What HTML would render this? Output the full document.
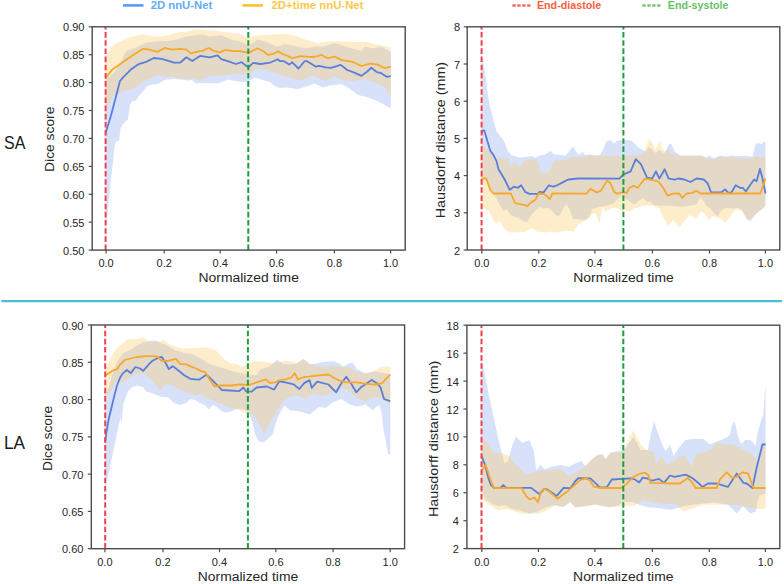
<!DOCTYPE html>
<html><head><meta charset="utf-8"><style>
html,body{margin:0;padding:0;background:#fff;}
body{width:784px;height:584px;overflow:hidden;}
svg{display:block;}
text{font-family:"Liberation Sans", sans-serif;}
.tk{font-size:11px;fill:#262626;}
.al{font-size:12px;fill:#262626;}
.lg{font-size:11px;font-weight:bold;}
.big{font-size:18px;fill:#1a1a1a;}
</style></head><body>
<svg width="784" height="584" viewBox="0 0 784 584">
<rect x="0" y="0" width="784" height="584" fill="#fff"/>

<line x1="123" y1="5.4" x2="143.5" y2="5.4" stroke="#5a9cf2" stroke-width="2.6"/>
<text x="150.7" y="9.2" class="lg" fill="#66aaf6" textLength="61.5" lengthAdjust="spacingAndGlyphs">2D nnU-Net</text>
<line x1="242.4" y1="5.4" x2="262.9" y2="5.4" stroke="#fbc02d" stroke-width="2.6"/>
<text x="271.5" y="9.2" class="lg" fill="#fcc84a" textLength="92" lengthAdjust="spacingAndGlyphs">2D+time nnU-Net</text>
<line x1="512.4" y1="5.5" x2="531" y2="5.5" stroke="#f76a5c" stroke-width="2.4" stroke-dasharray="3.4 1.5"/>
<text x="536.9" y="9.2" class="lg" fill="#f5603f" textLength="64.3" lengthAdjust="spacingAndGlyphs">End-diastole</text>
<line x1="642.4" y1="5.5" x2="661" y2="5.5" stroke="#78c878" stroke-width="2.4" stroke-dasharray="3.4 1.5"/>
<text x="667.8" y="9.2" class="lg" fill="#66c266" textLength="60.6" lengthAdjust="spacingAndGlyphs">End-systole</text>


<text x="0" y="0" transform="translate(4.0,149.2) scale(0.89,1)" class="big">SA</text>
<text x="0" y="0" transform="translate(3.9,449.0) scale(0.96,1)" class="big">LA</text>
<line x1="1.3" y1="301.1" x2="782" y2="301.1" stroke="#4cbdd6" stroke-width="2.2"/>

<polygon points="105.5,80.0 106.2,79.0 112.3,74.2 118.5,66.5 123.1,57.3 126.2,51.1 130.8,49.6 138.5,46.5 146.2,42.6 151.4,42.0 160.0,41.1 168.5,41.1 177.0,39.4 185.6,36.8 195.0,35.2 202.3,34.5 209.6,36.6 221.2,35.2 231.4,39.6 243.1,42.5 248.6,45.4 257.6,39.6 267.8,42.5 276.5,46.8 285.3,43.9 295.0,45.7 305.8,48.4 314.8,46.6 323.8,46.6 334.6,43.0 345.3,46.6 352.5,48.4 361.5,51.1 365.1,46.6 372.3,48.4 381.3,46.6 390.8,52.0 390.8,108.6 383.1,104.1 375.9,100.5 366.9,96.9 357.9,95.1 348.9,87.9 341.7,84.3 331.0,85.2 322.4,87.4 319.3,85.8 314.7,83.5 310.8,85.0 303.1,87.4 297.0,89.3 291.6,88.1 285.4,87.4 279.2,88.1 274.6,85.8 270.0,82.0 263.4,80.3 254.7,77.4 248.6,81.8 238.7,81.8 228.5,79.6 218.3,83.3 209.6,83.3 200.0,83.0 196.0,83.6 191.9,80.0 186.7,80.5 181.6,79.5 173.4,79.0 167.2,79.5 163.1,80.5 159.0,83.6 155.9,84.6 150.8,84.6 146.7,86.7 143.6,90.8 140.5,93.9 137.5,98.0 135.4,101.1 132.3,101.1 130.3,104.1 127.7,120.0 124.7,122.0 120.5,128.0 119.2,140.3 116.4,141.6 115.3,143.0 114.2,150.0 112.5,166.0 110.5,183.0 108.5,204.0 107.4,216.0 106.5,223.0 105.5,230.0" fill="#6387eb" fill-opacity="0.25" stroke="none"/>
<polygon points="105.5,56.0 106.9,54.2 110.8,48.0 115.4,43.4 123.1,40.3 130.8,37.2 138.5,34.9 143.1,33.9 149.9,35.7 160.0,36.8 168.5,35.1 177.0,32.6 185.6,31.7 195.0,29.4 216.8,30.8 238.7,33.7 248.6,38.1 253.2,35.9 260.5,35.2 275.1,34.5 285.3,33.7 295.0,35.8 305.8,39.4 316.6,43.0 331.0,41.2 341.7,41.2 354.3,42.1 366.9,42.1 377.7,44.8 390.8,47.5 390.8,96.9 384.9,87.0 374.1,82.5 363.3,78.9 354.3,80.7 345.3,80.7 334.6,76.2 330.0,78.9 324.7,80.4 320.1,78.9 316.2,76.6 311.6,75.8 307.0,78.1 300.8,80.4 295.4,78.9 289.3,77.3 282.3,75.8 277.7,73.5 270.0,72.0 267.8,70.1 256.2,68.7 248.6,74.5 238.7,73.8 224.1,75.2 209.6,76.0 200.0,80.0 191.9,78.5 186.7,79.5 181.6,79.0 173.4,76.4 167.2,76.9 163.1,75.4 159.0,74.9 150.8,78.5 145.7,80.5 140.5,83.6 135.4,87.7 130.3,89.8 125.1,90.8 120.0,92.9 116.0,94.5 112.3,97.5 110.0,102.0 106.9,107.0 105.5,108.0" fill="#fcc861" fill-opacity="0.33" stroke="none"/>
<polyline points="105.5,133.5 110.8,116.2 115.0,100.3 120.0,81.0 123.1,77.3 130.8,69.6 138.5,64.2 146.2,61.9 153.9,58.0 161.6,58.8 169.3,61.1 174.0,62.7 180.1,62.7 186.3,57.3 192.4,61.1 196.0,58.5 200.0,55.9 209.6,57.3 217.6,55.3 221.2,59.2 228.5,61.4 235.8,64.0 241.6,62.1 246.0,65.8 248.6,67.2 253.2,62.9 260.5,64.0 270.0,62.7 277.7,59.2 280.0,61.2 283.9,61.2 289.3,64.6 292.3,62.3 298.5,68.5 304.7,61.2 307.0,61.2 310.8,63.5 315.5,66.6 319.3,65.8 325.5,67.3 331.0,67.8 340.8,64.9 347.1,70.0 354.3,72.6 361.5,75.9 366.9,71.7 371.4,67.8 376.8,72.1 381.3,73.2 386.7,76.8 390.8,76.2" fill="none" stroke="#5a7fda" stroke-width="1.8" stroke-linejoin="round" stroke-linecap="butt"/>
<polyline points="105.5,78.5 106.2,77.3 112.3,69.6 120.0,64.2 127.7,58.8 135.4,53.4 143.1,48.8 149.3,49.6 157.0,51.9 164.7,48.0 172.4,49.6 180.1,48.8 186.3,49.6 190.9,53.4 195.5,52.2 200.0,51.1 202.3,50.9 208.8,48.0 213.9,50.9 219.8,52.4 225.6,49.8 232.9,51.2 240.1,51.2 248.6,52.7 257.6,48.3 263.4,51.2 267.8,54.9 273.6,53.8 278.0,51.2 282.4,54.1 285.4,55.0 292.3,58.1 300.8,56.2 308.5,56.9 313.0,57.0 317.8,56.2 321.1,54.7 327.4,58.3 334.6,56.5 341.7,60.1 352.5,61.9 361.5,66.0 370.5,63.7 377.7,64.6 384.9,68.2 390.8,66.7" fill="none" stroke="#f8a82c" stroke-width="1.8" stroke-linejoin="round" stroke-linecap="butt"/>
<line x1="105.6" y1="250.1" x2="105.6" y2="26.8" stroke="#f2404a" stroke-width="2" stroke-dasharray="5.6 2.57"/>
<line x1="248.3" y1="250.1" x2="248.3" y2="26.8" stroke="#1f9e3e" stroke-width="2" stroke-dasharray="5.6 2.57"/>
<rect x="92.2" y="26.8" width="313.0" height="223.29999999999998" fill="none" stroke="#4d4d4d" stroke-width="1.4"/>
<line x1="88.7" y1="250.1" x2="92.2" y2="250.1" stroke="#4d4d4d" stroke-width="1.2"/>
<text x="84.5" y="254.6" text-anchor="end" class="tk">0.50</text>
<line x1="88.7" y1="222.2" x2="92.2" y2="222.2" stroke="#4d4d4d" stroke-width="1.2"/>
<text x="84.5" y="226.7" text-anchor="end" class="tk">0.55</text>
<line x1="88.7" y1="194.3" x2="92.2" y2="194.3" stroke="#4d4d4d" stroke-width="1.2"/>
<text x="84.5" y="198.8" text-anchor="end" class="tk">0.60</text>
<line x1="88.7" y1="166.4" x2="92.2" y2="166.4" stroke="#4d4d4d" stroke-width="1.2"/>
<text x="84.5" y="170.9" text-anchor="end" class="tk">0.65</text>
<line x1="88.7" y1="138.4" x2="92.2" y2="138.4" stroke="#4d4d4d" stroke-width="1.2"/>
<text x="84.5" y="142.9" text-anchor="end" class="tk">0.70</text>
<line x1="88.7" y1="110.5" x2="92.2" y2="110.5" stroke="#4d4d4d" stroke-width="1.2"/>
<text x="84.5" y="115.0" text-anchor="end" class="tk">0.75</text>
<line x1="88.7" y1="82.6" x2="92.2" y2="82.6" stroke="#4d4d4d" stroke-width="1.2"/>
<text x="84.5" y="87.1" text-anchor="end" class="tk">0.80</text>
<line x1="88.7" y1="54.7" x2="92.2" y2="54.7" stroke="#4d4d4d" stroke-width="1.2"/>
<text x="84.5" y="59.2" text-anchor="end" class="tk">0.85</text>
<line x1="88.7" y1="26.8" x2="92.2" y2="26.8" stroke="#4d4d4d" stroke-width="1.2"/>
<text x="84.5" y="31.3" text-anchor="end" class="tk">0.90</text>
<line x1="106.1" y1="250.1" x2="106.1" y2="253.6" stroke="#4d4d4d" stroke-width="1.2"/>
<text x="106.1" y="267.0" text-anchor="middle" class="tk">0.0</text>
<line x1="164.2" y1="250.1" x2="164.2" y2="253.6" stroke="#4d4d4d" stroke-width="1.2"/>
<text x="164.2" y="267.0" text-anchor="middle" class="tk">0.2</text>
<line x1="220.2" y1="250.1" x2="220.2" y2="253.6" stroke="#4d4d4d" stroke-width="1.2"/>
<text x="220.2" y="267.0" text-anchor="middle" class="tk">0.4</text>
<line x1="276.6" y1="250.1" x2="276.6" y2="253.6" stroke="#4d4d4d" stroke-width="1.2"/>
<text x="276.6" y="267.0" text-anchor="middle" class="tk">0.6</text>
<line x1="334.4" y1="250.1" x2="334.4" y2="253.6" stroke="#4d4d4d" stroke-width="1.2"/>
<text x="334.4" y="267.0" text-anchor="middle" class="tk">0.8</text>
<line x1="390.6" y1="250.1" x2="390.6" y2="253.6" stroke="#4d4d4d" stroke-width="1.2"/>
<text x="390.6" y="267.0" text-anchor="middle" class="tk">1.0</text>
<text x="198.5" y="282.3" textLength="100.4" lengthAdjust="spacingAndGlyphs" class="al">Normalized time</text>
<text x="-32.6" y="0" transform="translate(53.5,139.3) rotate(-90)" textLength="65.3" lengthAdjust="spacingAndGlyphs" class="al">Dice score</text><polygon points="481.6,56.0 483.2,62.3 485.2,74.6 487.3,91.0 489.3,103.4 491.4,111.6 493.4,120.0 496.5,131.3 499.6,135.4 503.7,140.6 507.8,150.8 510.9,155.0 519.1,157.5 525.0,157.0 531.1,156.0 535.2,157.6 540.3,155.5 545.4,154.5 550.5,150.9 553.6,154.0 558.7,155.0 565.8,155.5 569.9,150.4 573.0,146.3 576.0,151.4 579.1,155.0 582.1,151.9 585.2,155.0 590.3,154.5 596.4,155.5 600.5,154.5 603.4,149.1 605.7,142.2 609.2,139.9 611.5,141.1 613.8,143.4 617.2,140.5 623.0,139.9 631.0,140.5 634.4,143.4 639.0,148.0 643.6,150.3 645.5,152.0 648.2,147.0 651.7,149.0 655.1,153.0 659.7,150.0 664.3,154.0 668.9,144.5 671.2,143.4 674.6,151.4 680.4,155.4 701.3,155.4 706.7,157.5 708.9,155.4 712.1,157.5 714.3,158.6 719.7,155.4 726.2,156.5 731.6,155.4 736.0,155.9 750.1,155.9 752.2,157.5 755.5,144.5 757.7,142.9 762.0,144.0 765.4,140.7 765.4,204.6 763.9,207.7 759.8,210.8 755.7,214.0 751.6,220.0 748.5,221.0 745.4,216.5 741.3,209.8 737.2,207.7 733.1,208.7 725.9,207.7 720.8,210.8 717.7,215.9 714.6,213.9 710.5,208.7 706.4,205.7 703.3,200.5 700.3,197.5 696.2,204.6 690.0,205.7 681.2,206.7 671.0,205.7 660.7,205.7 653.5,204.7 650.4,201.6 647.3,202.1 645.3,200.0 642.2,198.0 639.1,200.6 634.5,204.7 629.3,201.6 624.2,197.5 621.1,195.4 618.0,198.5 613.9,203.6 606.7,205.7 600.6,206.7 592.3,208.8 590.3,213.9 588.2,218.0 584.1,220.1 578.4,219.1 573.3,219.1 570.2,210.8 567.1,204.7 564.1,206.7 559.9,214.9 556.9,216.0 551.7,210.8 547.6,207.7 543.5,208.8 540.4,206.7 535.3,210.8 531.2,214.9 527.1,222.1 523.6,221.6 518.8,218.0 514.0,216.8 510.4,214.4 506.8,209.6 503.2,210.8 499.6,204.8 496.0,197.6 493.6,194.0 490.0,188.0 485.2,179.6 481.6,178.0" fill="#6387eb" fill-opacity="0.25" stroke="none"/>
<polygon points="481.6,143.0 482.1,143.6 488.0,150.0 496.5,158.5 508.8,158.5 510.9,169.3 513.5,161.1 519.1,167.3 525.3,159.6 536.2,159.1 538.3,163.7 540.3,171.8 545.4,172.9 549.5,170.8 552.6,163.7 555.6,159.6 558.7,161.6 560.7,159.6 563.8,160.6 567.9,158.6 573.0,157.0 581.1,157.6 588.3,155.5 596.4,156.0 642.5,154.9 645.9,148.0 648.2,139.9 651.7,141.1 655.1,150.3 659.7,140.5 662.0,148.0 664.3,151.4 667.7,149.1 671.2,153.7 680.4,156.0 701.3,156.0 706.7,158.5 713.2,159.2 719.7,156.5 726.2,158.0 731.6,156.5 736.0,158.6 750.1,158.6 752.2,157.5 756.6,155.9 760.9,157.5 765.4,157.0 765.4,205.7 759.8,210.8 753.7,215.9 749.5,220.0 746.5,219.0 742.4,210.8 738.3,209.8 734.1,210.8 729.0,218.0 724.9,223.1 720.8,219.0 716.7,217.0 712.6,215.9 708.5,220.0 704.4,212.9 700.3,211.8 696.2,219.0 693.1,217.0 690.0,214.9 684.3,221.1 679.2,227.3 673.0,220.1 667.9,226.2 662.7,216.0 658.6,207.7 652.5,205.7 647.3,205.0 642.2,206.0 638.0,207.5 633.4,208.8 629.3,211.9 625.2,209.8 622.1,211.9 619.1,208.8 614.9,207.7 609.8,208.8 605.7,211.9 602.6,206.7 599.5,223.2 595.4,212.9 592.3,213.9 588.2,219.1 582.6,222.1 578.4,224.2 573.3,231.4 568.2,230.4 561.0,231.4 554.8,232.4 549.7,231.4 545.6,232.4 536.3,231.4 533.2,228.3 529.1,229.3 525.0,232.0 510.4,232.4 505.6,230.0 502.0,225.2 499.6,220.4 496.0,224.0 493.6,220.4 491.2,215.6 488.8,210.8 485.2,208.4 481.6,207.0" fill="#fcc861" fill-opacity="0.33" stroke="none"/>
<polyline points="481.6,133.0 482.8,130.5 484.2,130.3 487.2,140.5 490.3,150.8 493.4,154.9 496.5,161.1 498.5,169.3 504.7,179.5 509.8,189.8 513.9,186.7 518.0,187.8 521.1,185.3 525.2,191.9 529.3,193.9 537.5,193.9 539.6,191.9 543.7,192.3 548.8,185.3 553.0,186.7 557.1,185.3 564.2,181.6 568.3,179.5 578.0,178.5 619.3,178.6 623.5,174.5 630.6,171.4 635.8,159.1 640.9,164.2 647.1,177.6 652.2,178.6 655.9,171.4 659.4,178.6 664.6,169.3 668.7,178.6 674.9,179.6 678.2,178.5 684.3,179.5 690.5,182.0 696.6,178.5 703.8,179.5 707.9,183.7 711.0,192.3 721.3,192.3 725.0,189.4 728.5,192.9 731.5,192.3 735.7,185.3 739.8,187.8 742.8,187.8 745.9,191.5 750.0,185.3 754.1,179.5 756.6,181.2 759.9,168.9 762.3,177.5 765.5,193.5" fill="none" stroke="#5a7fda" stroke-width="1.8" stroke-linejoin="round" stroke-linecap="butt"/>
<polyline points="481.6,178.5 486.2,178.5 490.3,189.8 493.4,193.5 510.9,193.5 515.0,203.2 525.2,205.2 527.3,206.2 531.4,202.1 535.5,199.7 538.6,193.5 543.7,193.9 547.8,197.0 549.9,199.1 552.3,193.5 586.4,193.6 590.6,188.9 596.7,192.4 600.8,190.9 607.0,180.6 610.1,182.7 614.2,192.0 617.3,193.6 623.5,192.0 626.5,193.0 629.6,187.8 633.7,185.8 637.8,187.8 640.9,183.7 645.0,178.6 652.2,180.0 658.4,181.7 662.5,186.8 667.7,195.7 672.8,193.6 679.2,193.5 682.3,198.0 686.4,193.5 692.5,192.9 696.2,190.8 700.7,193.5 760.3,193.5 765.5,178.5" fill="none" stroke="#f8a82c" stroke-width="1.8" stroke-linejoin="round" stroke-linecap="butt"/>
<line x1="481.6" y1="250.0" x2="481.6" y2="26.8" stroke="#f2404a" stroke-width="2" stroke-dasharray="5.6 2.57"/>
<line x1="623.4" y1="250.0" x2="623.4" y2="26.8" stroke="#1f9e3e" stroke-width="2" stroke-dasharray="5.6 2.57"/>
<rect x="467.2" y="26.8" width="312.59999999999997" height="223.2" fill="none" stroke="#4d4d4d" stroke-width="1.4"/>
<line x1="463.7" y1="250.0" x2="467.2" y2="250.0" stroke="#4d4d4d" stroke-width="1.2"/>
<text x="460.0" y="254.5" text-anchor="end" class="tk">2</text>
<line x1="463.7" y1="212.8" x2="467.2" y2="212.8" stroke="#4d4d4d" stroke-width="1.2"/>
<text x="460.0" y="217.3" text-anchor="end" class="tk">3</text>
<line x1="463.7" y1="175.6" x2="467.2" y2="175.6" stroke="#4d4d4d" stroke-width="1.2"/>
<text x="460.0" y="180.1" text-anchor="end" class="tk">4</text>
<line x1="463.7" y1="138.4" x2="467.2" y2="138.4" stroke="#4d4d4d" stroke-width="1.2"/>
<text x="460.0" y="142.9" text-anchor="end" class="tk">5</text>
<line x1="463.7" y1="101.2" x2="467.2" y2="101.2" stroke="#4d4d4d" stroke-width="1.2"/>
<text x="460.0" y="105.7" text-anchor="end" class="tk">6</text>
<line x1="463.7" y1="64.0" x2="467.2" y2="64.0" stroke="#4d4d4d" stroke-width="1.2"/>
<text x="460.0" y="68.5" text-anchor="end" class="tk">7</text>
<line x1="463.7" y1="26.8" x2="467.2" y2="26.8" stroke="#4d4d4d" stroke-width="1.2"/>
<text x="460.0" y="31.3" text-anchor="end" class="tk">8</text>
<line x1="481.8" y1="250.0" x2="481.8" y2="253.5" stroke="#4d4d4d" stroke-width="1.2"/>
<text x="481.8" y="266.9" text-anchor="middle" class="tk">0.0</text>
<line x1="538.8" y1="250.0" x2="538.8" y2="253.5" stroke="#4d4d4d" stroke-width="1.2"/>
<text x="538.8" y="266.9" text-anchor="middle" class="tk">0.2</text>
<line x1="594.9" y1="250.0" x2="594.9" y2="253.5" stroke="#4d4d4d" stroke-width="1.2"/>
<text x="594.9" y="266.9" text-anchor="middle" class="tk">0.4</text>
<line x1="652.4" y1="250.0" x2="652.4" y2="253.5" stroke="#4d4d4d" stroke-width="1.2"/>
<text x="652.4" y="266.9" text-anchor="middle" class="tk">0.6</text>
<line x1="709.5" y1="250.0" x2="709.5" y2="253.5" stroke="#4d4d4d" stroke-width="1.2"/>
<text x="709.5" y="266.9" text-anchor="middle" class="tk">0.8</text>
<line x1="765.4" y1="250.0" x2="765.4" y2="253.5" stroke="#4d4d4d" stroke-width="1.2"/>
<text x="765.4" y="266.9" text-anchor="middle" class="tk">1.0</text>
<text x="573.3" y="282.3" textLength="100.4" lengthAdjust="spacingAndGlyphs" class="al">Normalized time</text>
<text x="-78.2" y="0" transform="translate(444.6,140.1) rotate(-90)" textLength="156.4" lengthAdjust="spacingAndGlyphs" class="al">Hausdorff distance (mm)</text><polygon points="105.1,395.0 108.5,388.5 112.3,374.7 117.0,362.0 123.1,353.1 130.8,350.0 137.0,345.4 143.1,342.3 149.3,341.0 155.0,340.5 167.1,345.4 175.7,350.5 184.2,353.1 192.8,354.0 201.4,359.1 209.9,364.2 218.5,366.8 227.1,369.4 235.6,372.0 244.2,373.7 247.8,375.2 250.0,375.2 256.6,375.2 260.7,369.0 269.0,367.0 277.2,359.8 283.4,363.9 290.0,364.5 296.7,363.4 303.4,358.9 310.0,364.5 316.7,363.4 322.0,362.0 334.5,361.2 340.0,364.0 343.5,366.7 348.0,364.0 352.4,362.3 356.8,369.0 365.7,373.4 374.6,371.2 383.5,373.0 390.2,374.0 390.2,455.8 388.0,453.6 383.5,429.1 381.5,412.0 379.1,404.6 372.4,410.2 365.7,404.6 356.8,406.8 350.1,404.6 341.2,399.0 332.3,402.4 325.6,407.9 319.0,406.8 310.0,414.6 298.9,411.3 290.0,410.2 284.2,405.5 279.1,414.4 275.3,424.6 272.7,434.8 268.9,437.4 263.8,442.5 258.7,441.2 254.8,433.6 252.3,422.1 249.7,414.4 247.2,411.0 243.4,409.5 238.3,408.5 234.4,410.0 229.3,411.9 224.2,412.5 220.4,410.6 216.6,406.8 212.8,404.9 208.9,409.3 205.1,405.5 200.0,403.0 195.0,399.9 190.3,398.9 186.2,403.0 180.1,405.1 173.9,403.0 167.8,396.9 161.6,396.9 158.0,395.5 152.4,393.2 146.2,391.6 143.1,387.0 137.0,385.5 132.4,387.0 127.7,391.6 123.1,405.0 121.8,423.0 120.4,418.0 118.9,423.7 116.0,438.2 108.7,473.2 105.2,490.6 105.1,492.0" fill="#6387eb" fill-opacity="0.25" stroke="none"/>
<polygon points="105.1,369.0 106.2,367.0 109.2,360.8 115.4,350.0 120.0,345.4 127.7,339.2 133.9,339.2 140.1,338.5 143.1,336.9 149.3,342.3 155.5,341.6 160.0,341.6 163.7,339.4 169.8,344.5 182.1,348.6 195.0,348.1 205.3,347.5 215.5,350.1 223.8,358.8 229.9,362.9 236.1,363.9 242.3,367.0 247.8,363.9 254.6,360.8 262.8,361.8 273.1,362.9 285.4,360.8 290.0,361.2 296.7,363.0 303.4,358.9 310.0,364.0 316.7,366.0 325.0,367.0 334.5,366.0 343.5,366.7 350.0,368.0 356.8,372.0 365.7,373.4 374.6,371.2 379.0,368.0 383.5,366.7 390.2,366.7 390.2,405.7 383.5,399.0 374.6,396.8 365.7,401.2 356.8,397.9 350.1,391.2 343.5,387.9 334.5,391.2 323.4,395.7 312.3,393.5 305.6,399.0 298.9,395.7 290.0,396.8 282.9,401.7 277.8,409.3 272.7,418.3 267.6,427.2 263.8,434.8 260.0,424.6 256.1,418.3 251.0,414.0 247.8,414.0 243.4,412.0 238.3,409.8 231.9,408.1 225.5,405.5 219.1,403.0 212.8,400.4 206.4,397.9 200.0,394.0 195.0,395.7 190.3,393.8 182.1,390.7 173.9,386.6 165.7,383.5 160.6,390.7 157.0,386.0 152.4,380.8 146.2,374.7 140.1,373.1 133.9,374.7 127.7,379.3 121.6,382.4 117.0,380.8 113.0,388.0 109.2,393.2 105.1,395.0" fill="#fcc861" fill-opacity="0.33" stroke="none"/>
<polyline points="105.1,442.6 106.5,432.0 108.5,420.0 111.6,407.0 114.6,394.7 117.0,385.5 120.0,377.8 123.1,373.1 127.0,370.0 130.8,373.1 135.4,367.0 140.1,368.5 143.1,370.8 149.3,363.9 152.4,360.8 158.6,357.7 161.6,356.8 165.7,363.0 168.8,369.1 172.9,366.1 178.0,370.2 184.2,375.3 190.3,378.8 195.0,379.3 199.1,379.7 206.3,374.8 210.4,378.3 215.5,383.4 221.7,390.0 239.2,391.2 243.3,387.5 246.4,391.6 251.5,391.6 256.6,387.5 266.9,386.5 274.1,389.6 279.2,381.4 285.4,382.4 293.6,384.4 299.4,389.0 303.9,383.4 309.5,380.1 311.7,387.8 317.2,381.6 328.4,384.5 336.2,392.3 340.6,384.5 346.2,376.7 351.7,384.5 356.2,392.3 361.7,386.7 371.8,380.1 377.3,383.4 380.7,387.8 384.0,399.0 390.2,401.2" fill="none" stroke="#5a7fda" stroke-width="1.8" stroke-linejoin="round" stroke-linecap="butt"/>
<polyline points="105.1,375.5 109.2,373.1 113.9,370.1 117.0,369.3 120.0,364.7 124.7,360.0 130.8,358.5 137.0,357.0 146.2,356.2 152.4,356.2 157.5,356.5 161.6,360.9 167.8,360.9 176.0,358.9 180.1,364.0 186.2,364.4 192.4,367.1 195.0,368.0 201.2,371.1 205.3,372.1 209.4,379.3 214.5,386.5 219.7,385.5 232.0,385.5 240.2,384.4 248.4,385.1 256.6,382.4 265.9,379.3 270.0,383.0 275.1,382.4 279.2,380.3 285.4,379.3 291.6,377.3 294.7,373.1 297.7,379.3 303.9,377.0 308.3,376.7 317.2,375.6 328.4,374.5 332.8,377.2 339.5,380.7 346.2,382.3 357.3,382.3 366.2,383.8 375.1,384.5 381.8,383.4 390.2,374.5" fill="none" stroke="#f8a82c" stroke-width="1.8" stroke-linejoin="round" stroke-linecap="butt"/>
<line x1="105.2" y1="548.7" x2="105.2" y2="325.0" stroke="#f2404a" stroke-width="2" stroke-dasharray="5.6 2.57"/>
<line x1="247.9" y1="548.7" x2="247.9" y2="325.0" stroke="#1f9e3e" stroke-width="2" stroke-dasharray="5.6 2.57"/>
<rect x="91.3" y="325.0" width="313.3" height="223.70000000000005" fill="none" stroke="#4d4d4d" stroke-width="1.4"/>
<line x1="87.8" y1="548.7" x2="91.3" y2="548.7" stroke="#4d4d4d" stroke-width="1.2"/>
<text x="83.4" y="553.2" text-anchor="end" class="tk">0.60</text>
<line x1="87.8" y1="511.4" x2="91.3" y2="511.4" stroke="#4d4d4d" stroke-width="1.2"/>
<text x="83.4" y="515.9" text-anchor="end" class="tk">0.65</text>
<line x1="87.8" y1="474.1" x2="91.3" y2="474.1" stroke="#4d4d4d" stroke-width="1.2"/>
<text x="83.4" y="478.6" text-anchor="end" class="tk">0.70</text>
<line x1="87.8" y1="436.9" x2="91.3" y2="436.9" stroke="#4d4d4d" stroke-width="1.2"/>
<text x="83.4" y="441.4" text-anchor="end" class="tk">0.75</text>
<line x1="87.8" y1="399.6" x2="91.3" y2="399.6" stroke="#4d4d4d" stroke-width="1.2"/>
<text x="83.4" y="404.1" text-anchor="end" class="tk">0.80</text>
<line x1="87.8" y1="362.3" x2="91.3" y2="362.3" stroke="#4d4d4d" stroke-width="1.2"/>
<text x="83.4" y="366.8" text-anchor="end" class="tk">0.85</text>
<line x1="87.8" y1="325.0" x2="91.3" y2="325.0" stroke="#4d4d4d" stroke-width="1.2"/>
<text x="83.4" y="329.5" text-anchor="end" class="tk">0.90</text>
<line x1="104.9" y1="548.7" x2="104.9" y2="552.2" stroke="#4d4d4d" stroke-width="1.2"/>
<text x="104.9" y="565.6" text-anchor="middle" class="tk">0.0</text>
<line x1="163.0" y1="548.7" x2="163.0" y2="552.2" stroke="#4d4d4d" stroke-width="1.2"/>
<text x="163.0" y="565.6" text-anchor="middle" class="tk">0.2</text>
<line x1="219.5" y1="548.7" x2="219.5" y2="552.2" stroke="#4d4d4d" stroke-width="1.2"/>
<text x="219.5" y="565.6" text-anchor="middle" class="tk">0.4</text>
<line x1="275.9" y1="548.7" x2="275.9" y2="552.2" stroke="#4d4d4d" stroke-width="1.2"/>
<text x="275.9" y="565.6" text-anchor="middle" class="tk">0.6</text>
<line x1="333.1" y1="548.7" x2="333.1" y2="552.2" stroke="#4d4d4d" stroke-width="1.2"/>
<text x="333.1" y="565.6" text-anchor="middle" class="tk">0.8</text>
<line x1="390.2" y1="548.7" x2="390.2" y2="552.2" stroke="#4d4d4d" stroke-width="1.2"/>
<text x="390.2" y="565.6" text-anchor="middle" class="tk">1.0</text>
<text x="197.8" y="580.5" textLength="100.4" lengthAdjust="spacingAndGlyphs" class="al">Normalized time</text>
<text x="-32.6" y="0" transform="translate(52,438.4) rotate(-90)" textLength="65.3" lengthAdjust="spacingAndGlyphs" class="al">Dice score</text><polygon points="481.4,358.0 482.3,361.4 484.8,374.2 487.4,388.0 490.0,400.0 492.6,411.9 495.1,423.9 497.7,435.9 500.3,447.1 504.5,463.4 508.0,460.8 512.2,445.4 515.7,436.8 522.5,442.8 529.4,440.3 533.7,450.5 536.2,470.2 540.5,465.1 544.8,469.4 551.6,466.8 560.2,465.1 568.8,466.8 575.0,463.5 581.8,461.0 585.3,466.1 592.1,459.2 597.3,455.0 602.4,454.1 605.8,459.2 611.0,452.4 615.0,451.6 623.2,451.1 633.5,436.7 640.7,450.0 647.9,450.0 650.4,435.7 654.0,421.3 658.1,433.6 662.2,443.9 665.3,451.1 670.4,444.9 673.5,456.2 678.7,448.0 685.6,440.1 692.3,439.0 703.4,439.0 710.1,444.5 716.8,441.2 720.0,440.6 724.4,438.3 728.0,437.0 730.0,434.0 732.2,425.0 733.8,421.0 735.6,425.0 737.8,436.1 741.1,443.9 745.6,440.1 750.0,440.1 753.3,442.8 755.6,446.3 757.8,431.9 761.1,420.7 763.3,414.0 764.4,398.5 765.5,385.0 765.5,493.5 759.1,495.8 755.7,511.4 750.2,513.6 743.0,506.0 736.8,513.6 727.9,504.7 714.5,502.4 703.4,503.6 692.3,504.7 681.1,506.9 670.9,509.8 664.0,508.9 657.2,508.0 646.9,507.0 640.1,505.0 633.2,502.1 624.7,502.1 617.8,505.5 609.2,507.2 595.5,504.6 585.3,506.3 575.0,507.2 570.5,501.9 563.6,507.1 555.1,505.3 546.5,507.1 537.9,511.3 529.4,513.9 520.8,510.5 512.2,508.8 505.4,505.3 498.5,506.2 491.7,503.6 484.8,498.5 481.4,486.5" fill="#6387eb" fill-opacity="0.25" stroke="none"/>
<polygon points="481.4,442.0 484.8,440.3 488.3,443.7 493.4,452.3 502.0,453.1 508.8,455.7 515.7,464.2 526.0,474.5 534.5,472.0 543.1,470.2 551.6,470.2 560.2,468.5 568.8,476.2 575.0,473.0 583.6,467.8 590.4,461.0 597.3,455.0 602.4,455.0 605.0,460.1 609.2,453.3 615.0,453.1 623.2,451.1 625.3,448.0 629.4,437.7 633.5,430.5 636.6,436.7 640.7,443.9 644.8,449.0 647.9,451.1 654.0,452.1 656.1,463.4 662.2,456.2 666.3,464.4 672.5,462.4 680.0,456.2 685.6,455.7 691.2,466.8 696.7,453.5 703.4,452.3 712.3,449.0 716.8,442.3 723.5,444.5 732.4,444.5 741.3,449.0 750.2,453.5 756.9,460.1 765.5,440.1 765.5,509.1 755.7,509.1 736.8,505.0 725.7,504.7 703.4,504.7 683.4,511.4 675.0,503.8 660.6,503.8 643.5,500.3 635.0,505.5 623.0,506.3 609.2,507.2 595.5,504.6 585.3,506.3 575.0,507.2 570.5,501.9 561.9,507.1 555.1,505.3 546.5,510.5 537.9,513.9 529.4,513.0 522.5,513.9 512.2,510.5 505.4,508.8 498.5,510.5 490.0,505.3 484.8,501.9 481.4,495.1" fill="#fcc861" fill-opacity="0.33" stroke="none"/>
<polyline points="481.4,455.7 484.8,464.2 488.3,477.9 490.8,484.8 494.3,488.2 500.3,487.9 503.3,485.1 506.3,487.9 531.1,487.9 539.6,494.2 543.9,489.1 546.5,489.1 556.8,495.9 563.6,487.9 570.5,488.2 575.0,481.5 578.4,478.1 590.4,478.4 595.5,483.2 599.8,487.5 606.7,487.5 611.8,479.5 631.5,478.4 634.9,479.5 639.2,482.4 642.6,477.7 646.9,478.4 652.1,480.7 658.9,478.9 664.0,482.9 670.0,475.5 674.5,476.8 685.6,474.6 692.3,478.0 699.0,483.5 702.3,486.9 707.9,483.5 716.8,483.5 723.5,485.7 727.9,486.9 736.8,473.5 743.5,482.9 746.8,483.5 752.4,488.0 756.9,466.8 762.4,444.5 765.5,444.5" fill="none" stroke="#5a7fda" stroke-width="1.8" stroke-linejoin="round" stroke-linecap="butt"/>
<polyline points="481.4,471.1 485.7,465.1 488.3,472.8 491.7,483.1 494.3,488.2 521.7,488.2 526.0,495.9 529.4,499.3 534.5,497.6 537.9,502.3 541.4,490.8 544.8,489.1 548.2,490.8 557.6,498.8 567.0,491.6 575.0,484.9 580.1,480.1 585.3,478.4 589.6,480.1 593.8,486.6 600.7,488.0 621.2,488.0 626.4,484.1 633.2,477.2 639.2,473.8 645.2,472.6 648.6,475.5 650.3,482.9 664.0,483.2 670.0,483.5 680.0,483.5 687.8,478.0 691.2,481.3 695.6,488.0 716.8,488.0 720.1,479.1 726.8,472.4 732.4,478.0 736.8,476.8 742.4,472.4 748.0,473.5 753.5,488.0 765.5,488.0" fill="none" stroke="#f8a82c" stroke-width="1.8" stroke-linejoin="round" stroke-linecap="butt"/>
<line x1="481.5" y1="548.6" x2="481.5" y2="325.2" stroke="#f2404a" stroke-width="2" stroke-dasharray="5.6 2.57"/>
<line x1="623.3" y1="548.6" x2="623.3" y2="325.2" stroke="#1f9e3e" stroke-width="2" stroke-dasharray="5.6 2.57"/>
<rect x="466.9" y="325.2" width="312.9" height="223.40000000000003" fill="none" stroke="#4d4d4d" stroke-width="1.4"/>
<line x1="463.4" y1="548.6" x2="466.9" y2="548.6" stroke="#4d4d4d" stroke-width="1.2"/>
<text x="458.8" y="553.1" text-anchor="end" class="tk">2</text>
<line x1="463.4" y1="520.7" x2="466.9" y2="520.7" stroke="#4d4d4d" stroke-width="1.2"/>
<text x="458.8" y="525.2" text-anchor="end" class="tk">4</text>
<line x1="463.4" y1="492.8" x2="466.9" y2="492.8" stroke="#4d4d4d" stroke-width="1.2"/>
<text x="458.8" y="497.2" text-anchor="end" class="tk">6</text>
<line x1="463.4" y1="464.8" x2="466.9" y2="464.8" stroke="#4d4d4d" stroke-width="1.2"/>
<text x="458.8" y="469.3" text-anchor="end" class="tk">8</text>
<line x1="463.4" y1="436.9" x2="466.9" y2="436.9" stroke="#4d4d4d" stroke-width="1.2"/>
<text x="458.8" y="441.4" text-anchor="end" class="tk">10</text>
<line x1="463.4" y1="409.0" x2="466.9" y2="409.0" stroke="#4d4d4d" stroke-width="1.2"/>
<text x="458.8" y="413.5" text-anchor="end" class="tk">12</text>
<line x1="463.4" y1="381.1" x2="466.9" y2="381.1" stroke="#4d4d4d" stroke-width="1.2"/>
<text x="458.8" y="385.6" text-anchor="end" class="tk">14</text>
<line x1="463.4" y1="353.1" x2="466.9" y2="353.1" stroke="#4d4d4d" stroke-width="1.2"/>
<text x="458.8" y="357.6" text-anchor="end" class="tk">16</text>
<line x1="463.4" y1="325.2" x2="466.9" y2="325.2" stroke="#4d4d4d" stroke-width="1.2"/>
<text x="458.8" y="329.7" text-anchor="end" class="tk">18</text>
<line x1="481.8" y1="548.6" x2="481.8" y2="552.1" stroke="#4d4d4d" stroke-width="1.2"/>
<text x="481.8" y="565.5" text-anchor="middle" class="tk">0.0</text>
<line x1="538.4" y1="548.6" x2="538.4" y2="552.1" stroke="#4d4d4d" stroke-width="1.2"/>
<text x="538.4" y="565.5" text-anchor="middle" class="tk">0.2</text>
<line x1="594.9" y1="548.6" x2="594.9" y2="552.1" stroke="#4d4d4d" stroke-width="1.2"/>
<text x="594.9" y="565.5" text-anchor="middle" class="tk">0.4</text>
<line x1="652.4" y1="548.6" x2="652.4" y2="552.1" stroke="#4d4d4d" stroke-width="1.2"/>
<text x="652.4" y="565.5" text-anchor="middle" class="tk">0.6</text>
<line x1="709.3" y1="548.6" x2="709.3" y2="552.1" stroke="#4d4d4d" stroke-width="1.2"/>
<text x="709.3" y="565.5" text-anchor="middle" class="tk">0.8</text>
<line x1="765.4" y1="548.6" x2="765.4" y2="552.1" stroke="#4d4d4d" stroke-width="1.2"/>
<text x="765.4" y="565.5" text-anchor="middle" class="tk">1.0</text>
<text x="573.1" y="580.5" textLength="100.4" lengthAdjust="spacingAndGlyphs" class="al">Normalized time</text>
<text x="-78.2" y="0" transform="translate(437.8,438.9) rotate(-90)" textLength="156.4" lengthAdjust="spacingAndGlyphs" class="al">Hausdorff distance (mm)</text>
</svg>
</body></html>
